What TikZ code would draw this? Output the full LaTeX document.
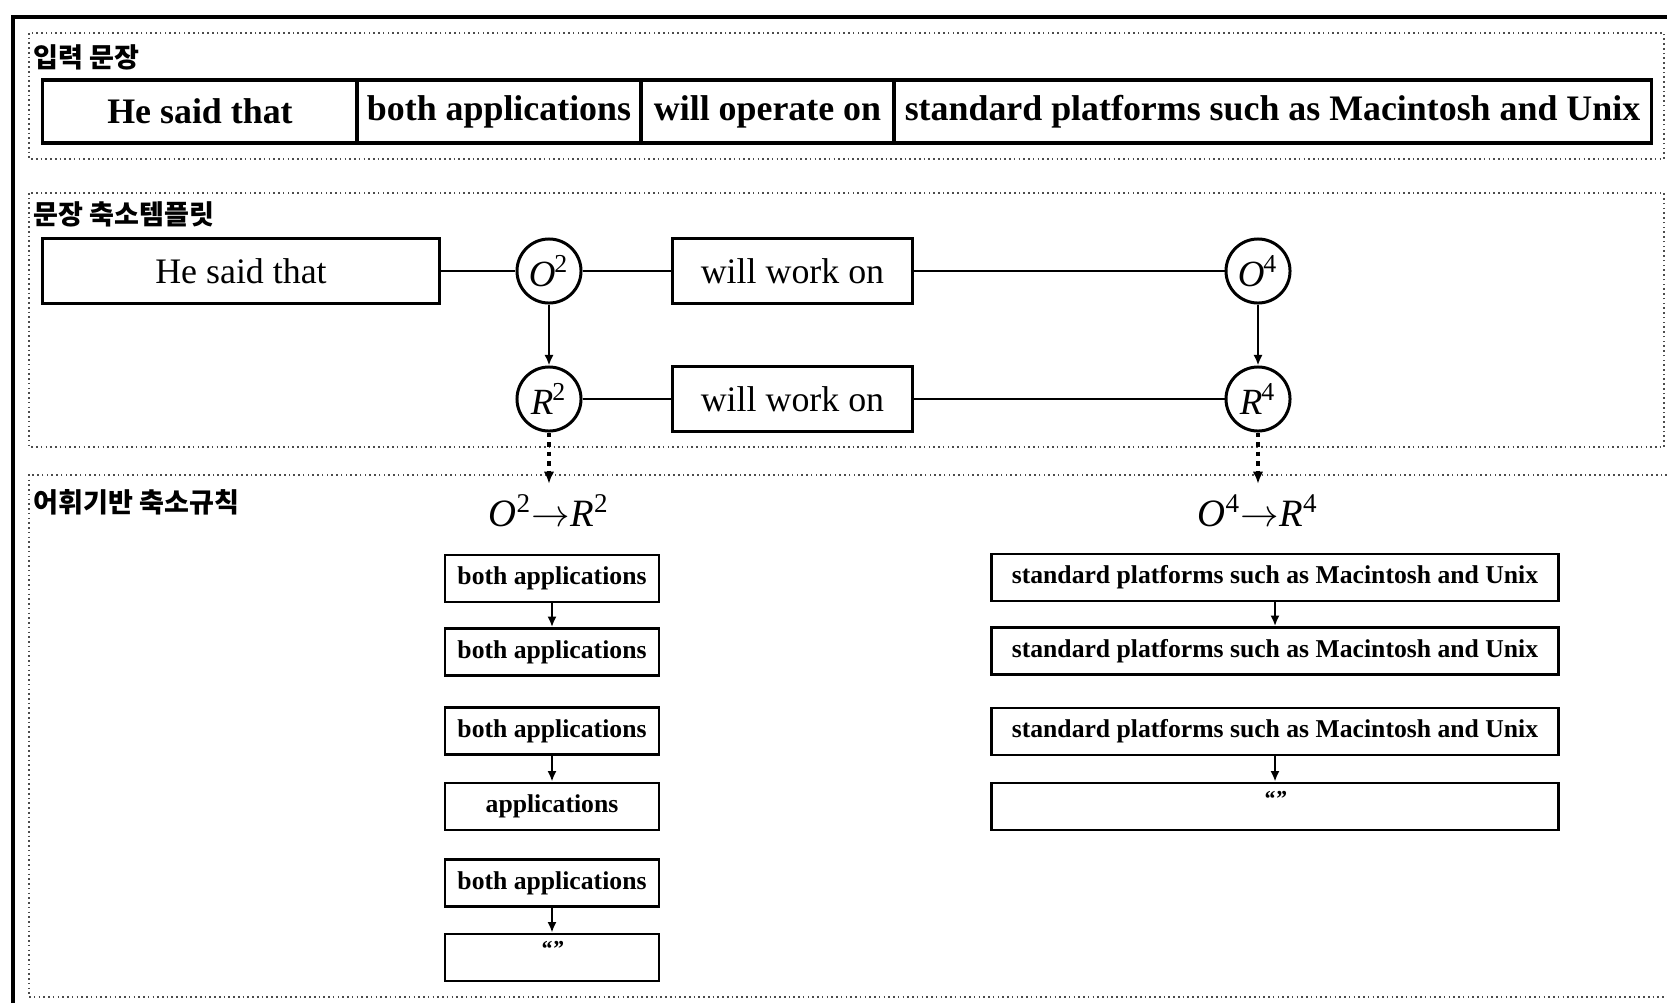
\documentclass[tikz,border=0pt]{standalone}
\usepackage{fontspec}
\setmainfont{Liberation Serif}
\newfontfamily\kr{Noto Sans CJK KR}
\usetikzlibrary{arrows.meta}
\begin{document}
\begin{tikzpicture}[x=0.01cm,y=-0.01cm,
  sec/.style={draw=black!70, line width=0.4pt, dash pattern=on 0.45pt off 0.9pt},
  heading/.style={anchor=west, inner sep=0pt, font=\kr\bfseries\fontsize{7.7}{9}\selectfont},
  cell/.style={draw, line width=0.9pt, inner sep=0pt, minimum height=0.63cm,
    font=\fontsize{10.2}{12}\selectfont\bfseries},
  tmpl/.style={draw, line width=0.85pt, inner sep=0pt, minimum height=0.64cm,
    font=\fontsize{10.2}{12}\selectfont},
  var/.style={circle, draw, line width=0.85pt, minimum size=0.64cm, inner sep=0pt,
    font=\fontsize{10.5}{12}\selectfont},
  rulebox/.style={draw, line width=0.8pt, inner sep=0pt, minimum height=0.47cm,
    font=\fontsize{7.3}{9}\selectfont\bfseries},
  rulelab/.style={inner sep=1pt, font=\fontsize{11}{13}\selectfont},
  quote/.style={inner sep=0pt, font=\fontsize{6.5}{7}\selectfont\bfseries\itshape},
  conn/.style={line width=0.8pt},
  down/.style={line width=0.8pt, -{Latex[length=3pt,width=2.6pt]}},
  dots/.style={line width=1.2pt, dash pattern=on 1.4pt off 1.3pt,
    -{Latex[length=3.4pt,width=3pt]}}
]
\useasboundingbox (0,0) rectangle (1667,1003);

% outer frame (open to the right and bottom)
\draw[line width=1pt] (13,1003) -- (13,17) -- (1667,17);

% section frames
\draw[sec] (29,33) rectangle (1664,159);
\draw[sec] (29,193) rectangle (1664,447);
\draw[sec] (1667,475) -- (29,475) -- (29,997) -- (1667,997);

% section headings
\node[heading] (h1) at (33,57) {입력 문장};
\node[heading] (h2) at (33,214) {문장 축소템플릿};
\node[heading] (h3) at (33,502) {어휘기반 축소규칙};

% input sentence split into chunks
\node[cell, minimum width=3.14cm] (c1) at (200,111.5) {He said that};
\node[cell, minimum width=2.84cm] (c2) at (499,111.5) {both applications};
\node[cell, minimum width=2.53cm] (c3) at (767.5,111.5) {will operate on};
\node[cell, minimum width=7.57cm] (c4) at (1272.5,111.5) {standard platforms such as Macintosh and Unix};

% reduction template
\node[tmpl, minimum width=3.96cm] (hst) at (241,271) {He said that};
\node[var] (O2) at (549,271) {\textit{O}\kern-0.03em\textsuperscript{2}};
\node[tmpl, minimum width=2.39cm] (w1) at (792.5,271) {will work on};
\node[var] (O4) at (1258,271) {\textit{O}\kern-0.03em\textsuperscript{4}};
\node[var] (R2) at (549,399) {\textit{R}\kern-0.03em\textsuperscript{2}};
\node[tmpl, minimum width=2.39cm] (w2) at (792.5,399) {will work on};
\node[var] (R4) at (1258,399) {\textit{R}\kern-0.03em\textsuperscript{4}};

\draw[conn] (hst) -- (O2);
\draw[conn] (O2) -- (w1);
\draw[conn] (w1) -- (O4);
\draw[conn] (R2) -- (w2);
\draw[conn] (w2) -- (R4);
\draw[down] (O2) -- (R2);
\draw[down] (O4) -- (R4);

% lexical reduction rules
\node[rulelab] (lab2) at (549,511) {\textit{O}\textsuperscript{2}$\rightarrow$\textit{R}\textsuperscript{2}};
\node[rulelab] (lab4) at (1258,511) {\textit{O}\textsuperscript{4}$\rightarrow$\textit{R}\textsuperscript{4}};
\draw[dots, shorten >=2pt] (R2) -- (lab2);
\draw[dots, shorten >=2pt] (R4) -- (lab4);

\node[rulebox, minimum width=2.14cm] (a1) at (552,578.5) {both applications};
\node[rulebox, minimum width=2.14cm] (a2) at (552,652) {both applications};
\node[rulebox, minimum width=2.14cm] (a3) at (552,731) {both applications};
\node[rulebox, minimum width=2.14cm] (a4) at (552,806.5) {applications};
\node[rulebox, minimum width=2.14cm] (a5) at (552,883) {both applications};
\node[rulebox, minimum width=2.14cm] (a6) at (552,957.5) {};
\node[quote] (q6) at (552,949) {“”};
\draw[down] (a1) -- (a2);
\draw[down] (a3) -- (a4);
\draw[down] (a5) -- (a6);

\node[rulebox, minimum width=5.67cm] (b1) at (1275,577.5) {standard platforms such as Macintosh and Unix};
\node[rulebox, minimum width=5.67cm] (b2) at (1275,651) {standard platforms such as Macintosh and Unix};
\node[rulebox, minimum width=5.67cm] (b3) at (1275,731.5) {standard platforms such as Macintosh and Unix};
\node[rulebox, minimum width=5.67cm] (b4) at (1275,806.5) {};
\node[quote] (q4) at (1275,799) {“”};
\draw[down] (b1) -- (b2);
\draw[down] (b3) -- (b4);
\end{tikzpicture}
\end{document}
